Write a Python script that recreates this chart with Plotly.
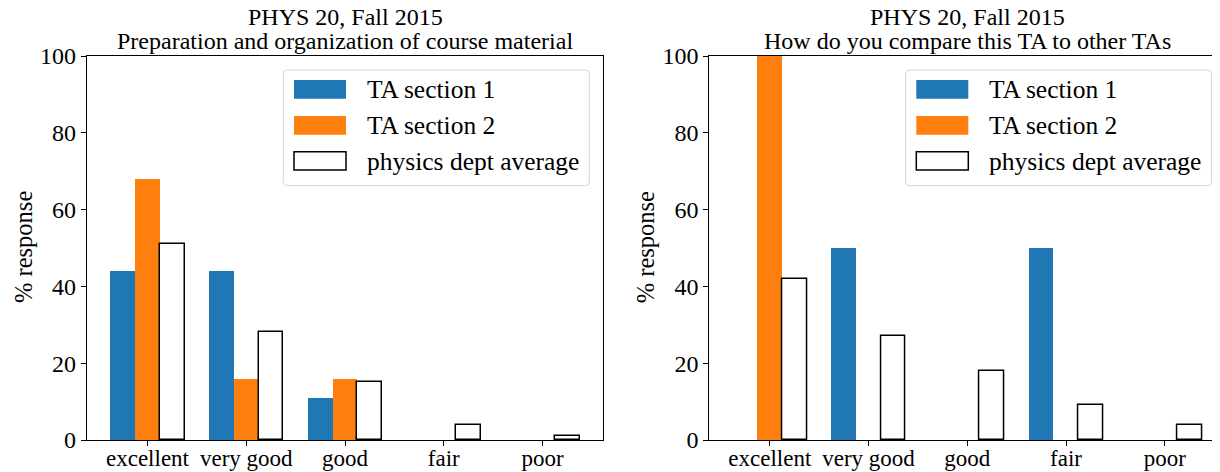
import numpy as np
import plotly.graph_objects as go

# ---------------- data ----------------
categories = ["excellent", "very good", "good", "fair", "poor"]
course_title = "PHYS 20, Fall 2015"
question_left = "Preparation and organization of course material"
question_right = "How do you compare this TA to other TAs"
series_names = ["TA section 1", "TA section 2", "physics dept average"]

left_sec1 = [44, 44, 11, 0, 0]
left_sec2 = [68, 16, 16, 0, 0]
left_avg = [51, 28, 15, 4, 1]

right_sec1 = [0, 50, 0, 50, 0]
right_sec2 = [100, 0, 0, 0, 0]
right_avg = [42, 27, 18, 9, 4]

y_ticks = [0, 20, 40, 60, 80, 100]
y_label = "% response"

# ---------------- style / layout ----------------
OFF = 8  # page body margin offset in the browser
W, H = 1220 - OFF, 472 - OFF
# target window pixel coordinates
AX1_LEFT, AX_TOP, AX_BOTTOM = 87.0, 56.0, 440.0
AX_W = 516.0
AX2_LEFT = 709.3

ML = AX1_LEFT - OFF
MT = AX_TOP - OFF
MB = H - (AX_BOTTOM - OFF)
MR = 0
PW, PH = W - ML - MR, H - MT - MB
FONT = "Liberation Serif"
BLUE = "#1f77b4"
ORANGE = "#ff7f0e"
BAR_W = 0.25
XMIN, XMAX = -0.6125, 4.6125
PX_PER_UNIT = AX_W / (XMAX - XMIN)


def px(x):
    """window pixel x -> paper coordinate"""
    return (x - OFF - ML) / PW


def py(y):
    """window pixel y -> paper coordinate"""
    return (H - MB - (y - OFF)) / PH


fig = go.Figure()
idx = np.arange(len(categories))

panels = [
    ("x", "y", left_sec1, left_sec2, left_avg),
    ("x2", "y2", right_sec1, right_sec2, right_avg),
]
for xa, ya, s1, s2, av in panels:
    fig.add_trace(go.Bar(x=idx - BAR_W, y=s1, width=BAR_W, marker=dict(color=BLUE, line=dict(width=0)),
                         name=series_names[0], xaxis=xa, yaxis=ya, showlegend=False))
    fig.add_trace(go.Bar(x=idx, y=s2, width=BAR_W, marker=dict(color=ORANGE, line=dict(width=0)),
                         name=series_names[1], xaxis=xa, yaxis=ya, showlegend=False))
    fig.add_trace(go.Bar(x=idx + BAR_W, y=av, width=BAR_W,
                         marker=dict(color="white", line=dict(color="black", width=1.5)),
                         name=series_names[2], xaxis=xa, yaxis=ya, showlegend=False))

axis_common = dict(showline=True, linecolor="black", linewidth=1.2, showgrid=False, zeroline=False,
                   ticks="outside", ticklen=5, tickwidth=1.2, tickcolor="black", automargin=False)
xfont = dict(family=FONT, size=23, color="black")
yfont = dict(family=FONT, size=24, color="black")

x2max = XMIN + (1220 - AX2_LEFT) / PX_PER_UNIT

fig.update_layout(
    template="none",
    width=W, height=H,
    margin=dict(l=ML, r=MR, t=MT, b=MB, pad=0, autoexpand=False),
    paper_bgcolor="white", plot_bgcolor="white",
    font=dict(family=FONT, color="black"),
    barmode="overlay", bargap=0,
    showlegend=False,
    xaxis=dict(domain=[0, AX_W / PW], range=[XMIN, XMAX], tickvals=list(idx), ticktext=categories,
               mirror=True, anchor="y", tickfont=xfont, ticklabelstandoff=-8, **axis_common),
    yaxis=dict(domain=[0, 1], range=[0, 100], tickvals=y_ticks, mirror=True, anchor="x",
               tickfont=yfont, ticklabelstandoff=0, **axis_common),
    xaxis2=dict(domain=[(AX2_LEFT - AX1_LEFT) / PW, 1], range=[XMIN, x2max], tickvals=list(idx),
                ticktext=categories, mirror=True, anchor="y2", tickfont=xfont, ticklabelstandoff=-8,
                **axis_common),
    yaxis2=dict(domain=[0, 1], range=[0, 100], tickvals=y_ticks, mirror=False, anchor="x2",
                tickfont=yfont, ticklabelstandoff=0, **axis_common),
)

annotations = []
shapes = []

panel_info = [
    (AX1_LEFT, question_left),
    (AX2_LEFT, question_right),
]
for ax_left, question in panel_info:
    cx = ax_left + AX_W / 2
    # titles
    annotations.append(dict(text=course_title, x=px(cx), y=py(17), xref="paper", yref="paper",
                            xanchor="center", yanchor="middle", showarrow=False,
                            font=dict(family=FONT, size=24, color="black")))
    annotations.append(dict(text=question, x=px(cx), y=py(41), xref="paper", yref="paper",
                            xanchor="center", yanchor="middle", showarrow=False,
                            font=dict(family=FONT, size=24, color="black")))
    # y label
    annotations.append(dict(text=y_label, x=px(ax_left - 64), y=py(247), xref="paper", yref="paper",
                            xanchor="center", yanchor="middle", showarrow=False, textangle=-90,
                            font=dict(family=FONT, size=24.5, color="black")))
    # legend frame
    off = ax_left - AX1_LEFT
    bx0, bx1, by0, by1 = 283.3 + off, 589.3 + off, 70, 185.7
    r = 4
    X0, X1 = px(bx0), px(bx1)
    Y0, Y1 = py(by0), py(by1)  # Y0 top, Y1 bottom
    rx, ry = r / PW, r / PH
    path = (f"M {X0+rx},{Y0} L {X1-rx},{Y0} Q {X1},{Y0} {X1},{Y0-ry} "
            f"L {X1},{Y1+ry} Q {X1},{Y1} {X1-rx},{Y1} L {X0+rx},{Y1} Q {X0},{Y1} {X0},{Y1+ry} "
            f"L {X0},{Y0-ry} Q {X0},{Y0} {X0+rx},{Y0} Z")
    shapes.append(dict(type="path", path=path, xref="paper", yref="paper",
                       fillcolor="rgba(255,255,255,0.8)", line=dict(color="#d6d6d6", width=1)))
    rows = [(80, 98.7), (116, 134.7), (151.7, 170)]
    fills = [BLUE, ORANGE, "white"]
    for i, ((r0, r1), fc) in enumerate(zip(rows, fills)):
        line = dict(color="black", width=1.5) if i == 2 else dict(width=0)
        shapes.append(dict(type="rect", xref="paper", yref="paper",
                           x0=px(294 + off), x1=px(346 + off), y0=py(r1), y1=py(r0),
                           fillcolor=fc, line=line))
        annotations.append(dict(text=series_names[i], x=px(364.5 + off), y=py((r0 + r1) / 2 + 0.5),
                                xref="paper", yref="paper", xanchor="left", yanchor="middle",
                                showarrow=False, font=dict(family=FONT, size=25.5, color="black")))

fig.update_layout(annotations=annotations, shapes=shapes)

fig.write_html("out.html")
